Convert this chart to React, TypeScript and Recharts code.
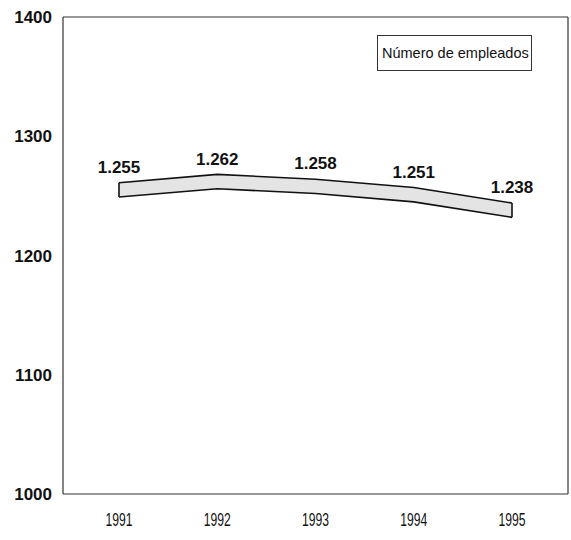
import {
  ComposedChart,
  Area,
  Line,
  XAxis,
  YAxis,
  Legend,
  LabelList,
  ReferenceLine,
} from 'recharts';

// valores
const years = ['1991', '1992', '1993', '1994', '1995'];
const empleados = [1255, 1262, 1258, 1251, 1238];
const yTicks = [1000, 1100, 1200, 1300, 1400];
const seriesName = 'Número de empleados';

// media altura de la banda en unidades del eje
const half = 6;

const data = years.map((year, i) => ({
  year,
  value: empleados[i],
  band: [empleados[i] - half, empleados[i] + half],
}));

// extremos cerrados de la banda
const caps = [data[0], data[data.length - 1]];

const fmt = (v: any) => {
  const s = String(v);
  return s.length > 3 ? s.slice(0, s.length - 3) + '.' + s.slice(-3) : s;
};

// etiquetas del eje x estrechas, como en el original
const YearTick = (props: any) => {
  const { x, y, payload } = props;
  return (
    <text
      x={x}
      y={y}
      dy="0.71em"
      textAnchor="middle"
      textLength={27}
      lengthAdjust="spacingAndGlyphs"
      fill="#111"
      fontSize={19}
      fontFamily='"Liberation Sans", sans-serif'
    >
      {payload.value}
    </text>
  );
};

const LegendBox = () => (
  <div
    style={{
      boxSizing: 'border-box',
      width: 155,
      height: 36,
      border: '1px solid #333',
      padding: '9px 0 0 4px',
      fontFamily: '"Liberation Sans", sans-serif',
      fontSize: 14.5,
      lineHeight: '17px',
      color: '#111',
      background: '#fff',
      whiteSpace: 'nowrap',
    }}
  >
    {seriesName}
  </div>
);

const App = () => {
  return (
    <div style={{ position: 'absolute', left: 0, top: 0, background: '#fff' }}>
      <ComposedChart
        width={571}
        height={540}
        data={data}
        margin={{ top: 16, right: 2, left: 0, bottom: 16 }}
      >
        <XAxis
          dataKey="year"
          scale="point"
          padding={{ left: 56, right: 56 }}
          stroke="#333"
          strokeWidth={1.2}
          tickSize={0}
          tickMargin={19}
          height={30}
          tick={<YearTick />}
        />
        <XAxis
          xAxisId="top"
          orientation="top"
          dataKey="year"
          scale="point"
          padding={{ left: 56, right: 56 }}
          stroke="#333"
          strokeWidth={1.2}
          tick={false}
          tickSize={0}
          height={1}
        />
        <YAxis
          domain={[1000, 1400]}
          ticks={yTicks}
          stroke="#333"
          strokeWidth={1.2}
          tickSize={0}
          tickMargin={11}
          width={63}
          tick={{ fill: '#111', fontSize: 17, fontWeight: 'bold', fontFamily: '"Liberation Sans", sans-serif' }}
        />
        <YAxis
          yAxisId="right"
          orientation="right"
          domain={[1000, 1400]}
          ticks={yTicks}
          stroke="#333"
          strokeWidth={1.2}
          tick={false}
          tickSize={0}
          width={1}
        />
        <Legend
          verticalAlign="middle"
          align="center"
          content={() => <LegendBox />}
          wrapperStyle={{ left: 377, top: 35, width: 'auto' }}
        />
        <Area
          dataKey="band"
          type="linear"
          fill="#e4e4e4"
          fillOpacity={1}
          stroke="#111"
          strokeWidth={1.6}
          isAnimationActive={false}
          legendType="none"
        />
        {caps.map((d) => (
          <ReferenceLine
            key={d.year}
            segment={[
              { x: d.year, y: d.band[0] },
              { x: d.year, y: d.band[1] },
            ]}
            stroke="#111"
            strokeWidth={1.6}
          />
        ))}
        <Line
          dataKey="value"
          xAxisId="top"
          yAxisId="right"
          stroke="none"
          dot={false}
          isAnimationActive={false}
          legendType="none"
        >
          <LabelList
            dataKey="value"
            position="top"
            offset={17}
            formatter={fmt}
            style={{ fill: '#111', fontSize: 17, fontWeight: 'bold', fontFamily: '"Liberation Sans", sans-serif' }}
          />
        </Line>
      </ComposedChart>
    </div>
  );
};

export default App;
